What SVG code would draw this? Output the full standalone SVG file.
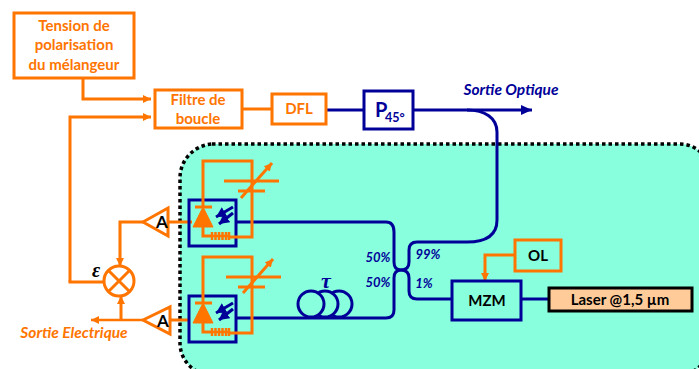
<svg xmlns="http://www.w3.org/2000/svg" width="699" height="369" viewBox="0 0 699 369">
<style>
text{font-family:"Lato","Carlito","Open Sans",sans-serif;font-weight:700;text-anchor:middle}
.o{fill:none;stroke:#FF7500;stroke-width:3}
.n{fill:none;stroke:#000099;stroke-width:3}
.t{fill:#FF7500;font-size:15px}
.k{fill:#000;font-size:15px}
.i{fill:#000099;font-style:italic;font-size:13px}
</style>
<defs>
<marker id="ao" markerUnits="userSpaceOnUse" markerWidth="10" markerHeight="10" refX="8" refY="4" orient="auto"><path d="M0 0L8 4L0 8z" fill="#FF7500"/></marker>
<marker id="an" markerUnits="userSpaceOnUse" markerWidth="12" markerHeight="12" refX="10" refY="5.5" orient="auto"><path d="M0 0L10 5.5L0 11z" fill="#000099"/></marker>
<marker id="ao2" markerUnits="userSpaceOnUse" markerWidth="10" markerHeight="10" refX="8" refY="4" orient="auto"><path d="M0 0L8 4L0 8z" fill="#FF7500"/></marker>
<marker id="an2" markerUnits="userSpaceOnUse" markerWidth="12" markerHeight="12" refX="11" refY="5" orient="auto"><path d="M0 0L11 5L0 10z" fill="#000099"/></marker>
<g id="coilres"><path class="o" style="stroke-width:2.5;stroke-linejoin:round" d="M212 232V240M215.5 232V240M219 232V240M222.5 232V240M226 232V240M229 232V240M212 236H230"/></g>
</defs>
<path id="zone" d="M212 144H680A30 30 0 0 1 710 174V343A32 32 0 0 1 678 375H212A32 32 0 0 1 180 343V178A34 34 0 0 1 214 144Z" fill="#88FFDD" stroke="#000" stroke-width="3.5" stroke-dasharray="3.5 3"/>
<g id="connectors">
<path class="o" marker-end="url(#ao)" d="M83 78V99H151"/>
<path class="o" marker-end="url(#ao)" d="M70 282V117H151"/>
<path class="o" d="M68.5 282H104"/>
<path class="o" d="M242 109H272"/>
<path class="n" d="M326 110H364"/>
<path class="n" marker-end="url(#an2)" d="M413 110H532"/>
<path class="n" d="M467 110C485 110 497 118 497 132V220C497 232 490 242 467 242H417Q409 242 409 250V262Q409 270 401 270Q394 270 394 262V232Q394 222 386 222H236"/>
<path class="n" d="M236 318H386Q394 318 394 310V278Q394 270 401 270Q409 270 409 278V291Q409 299 417 299H452"/>
<path class="n" d="M521 299H549"/>
<path class="o" marker-end="url(#ao2)" d="M515 255H485V281"/>
<path class="o" d="M168 222H192"/>
<path class="o" d="M170 320H188"/>
<path class="o" marker-end="url(#ao2)" d="M143 222H120V266"/>
<path class="o" marker-end="url(#ao2)" d="M121 320V296"/>
<path class="o" style="stroke-width:2.5" marker-end="url(#ao2)" d="M143 320H91"/>
</g>
<g id="tension"><rect class="o" x="14" y="13" width="120" height="65"/><text class="t" x="74" y="31">Tension de</text><text class="t" x="74" y="50">polarisation</text><text class="t" x="74" y="70">du mélangeur</text></g>
<g id="filtre"><rect class="o" x="155" y="90" width="87" height="38"/><text class="t" x="198" y="105">Filtre de</text><text class="t" x="198" y="124">boucle</text></g>
<g id="dfl"><rect class="o" x="272" y="94" width="54" height="30"/><text class="t" x="299" y="114">DFL</text></g>
<g id="p45"><rect class="n" x="364" y="91" width="49" height="38"/><text x="375" y="117" fill="#000099" font-size="20" style="text-anchor:start">P</text><text x="385" y="122" fill="#000099" font-size="12.5" style="text-anchor:start">45°</text></g>
<text class="i" x="511" y="95" style="font-size:15.5px">Sortie Optique</text>
<g id="det1">
<rect class="n" x="189" y="200" width="47" height="46"/>
<path class="o" d="M203 207V161H252V237H230M212 236H203V227"/>
<use href="#coilres"/>
<path d="M203 207L213 227H193Z" fill="#FF7500" stroke="#FF7500"/><path class="o" d="M195 207H212"/>
<path class="n" marker-end="url(#an)" d="M233 207L216 217"/><path class="n" marker-end="url(#an)" d="M233 213L219 224"/>
<path class="o" d="M224 181H279M238 191H265"/><path class="o" marker-end="url(#ao2)" d="M241 198L272 163"/>
</g>
<g id="det2">
<rect class="n" x="189" y="296" width="47" height="46"/>
<path class="o" d="M203 303V257H252V333H230M212 332H203V323"/>
<use href="#coilres" y="96"/>
<path d="M203 303L213 323H193Z" fill="#FF7500" stroke="#FF7500"/><path class="o" d="M195 303H212"/>
<path class="n" marker-end="url(#an)" d="M233 303L216 313"/><path class="n" marker-end="url(#an)" d="M233 309L219 320"/>
<path class="o" d="M226 277H281M238 287H265"/><path class="o" marker-end="url(#ao2)" d="M243 293L273 259"/>
</g>
<g id="amp1"><path class="o" d="M143 222L168 208V236Z"/><text class="k" x="162" y="228" style="font-size:17px">A</text></g>
<g id="amp2"><path class="o" d="M143 320L170 307V334Z"/><text class="k" x="163" y="327" style="font-size:17px">A</text></g>
<g id="mixer"><circle class="o" cx="119" cy="281" r="15"/><path class="o" d="M108 270L130 292M130 270L108 292"/></g>
<text x="96" y="277" font-size="20" style="font-family:'Liberation Serif',serif;font-style:italic" fill="#000">ε</text>
<text class="i" x="74" y="338" style="fill:#FF7500;font-size:15.5px">Sortie Electrique</text>
<g id="tau"><circle class="n" cx="339" cy="304" r="13" style="fill:#88FFDD"/><circle class="n" cx="325" cy="304" r="13" style="fill:#88FFDD"/><circle class="n" cx="311" cy="304" r="13" style="fill:#88FFDD"/><text x="326" y="288" fill="#000099" font-size="22" style="font-family:'Liberation Serif',serif;font-style:italic">τ</text></g>
<text class="i" x="378" y="262">50%</text><text class="i" x="378" y="287">50%</text><text class="i" x="428" y="259">99%</text><text class="i" x="424" y="288">1%</text>
<g id="mzm"><rect class="n" x="452" y="281" width="69" height="39"/><text class="k" x="487" y="306">MZM</text></g>
<g id="ol"><rect class="o" x="515" y="240" width="46" height="31"/><text class="k" x="538" y="261">OL</text></g>
<g id="laser"><rect x="549" y="288" width="143" height="23" fill="#FFCC99" stroke="#000" stroke-width="3"/><text class="k" x="620" y="305">Laser @1,5 µm</text></g>
</svg>
